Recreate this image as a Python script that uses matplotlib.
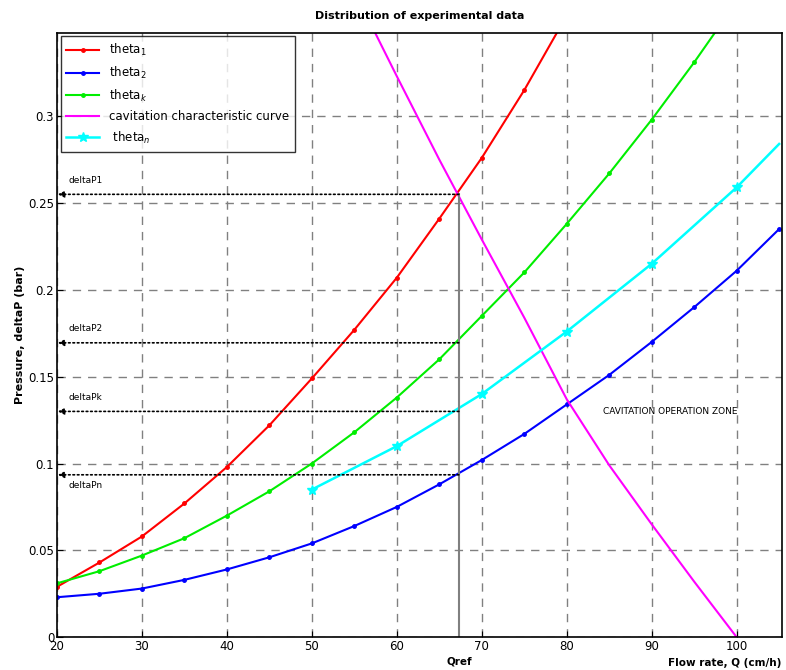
import matplotlib.pyplot as plt

# data
q_marks = [20, 25, 30, 35, 40, 45, 50, 55, 60, 65, 70, 75, 80, 85, 90, 95, 100, 105]
theta1 = [0.029, 0.043, 0.058, 0.077, 0.098, 0.122, 0.149, 0.177, 0.207, 0.241, 0.276, 0.315, 0.358]
theta2 = [0.023, 0.025, 0.028, 0.033, 0.039, 0.046, 0.054, 0.064, 0.075, 0.088, 0.102, 0.117,
          0.134, 0.151, 0.170, 0.190, 0.211, 0.235]
thetak = [0.031, 0.038, 0.047, 0.057, 0.070, 0.084, 0.100, 0.118, 0.138, 0.160, 0.185, 0.210,
          0.238, 0.267, 0.298, 0.331, 0.366]
qn = [50, 60, 70, 80, 90, 100, 105]
thetan = [0.085, 0.110, 0.140, 0.176, 0.215, 0.259, 0.284]
q_cav = [55, 60, 65, 70, 75, 80, 85, 90, 95, 100]
cav = [0.372, 0.323, 0.275, 0.229, 0.184, 0.137, 0.099, 0.065, 0.032, 0.0]

q_ref = 67.3
dp_names = ["deltaP1", "deltaP2", "deltaPk", "deltaPn"]
dp_values = [0.255, 0.1695, 0.130, 0.0935]

fig = plt.figure(figsize=(7.86, 6.7), dpi=100)
ax = fig.add_axes([0.0725, 0.049, 0.922, 0.902])

ax.plot(q_marks[:len(theta1)], theta1, color="red", marker=".", ms=5, lw=1.5, label="theta$_1$")
ax.plot(q_marks[:len(theta2)], theta2, color="blue", marker=".", ms=5, lw=1.5, label="theta$_2$")
ax.plot(q_marks[:len(thetak)], thetak, color="#00ee00", marker=".", ms=5, lw=1.5, label="theta$_k$")
ax.plot(q_cav, cav, color="magenta", lw=1.5, label="cavitation characteristic curve")
ax.plot(qn, thetan, color="cyan", marker="*", ms=7, lw=1.8, markevery=list(range(6)),
        label=" theta$_n$")

# Qref vertical line and the dotted deltaP arrows
ax.plot([q_ref, q_ref], [0, dp_values[0]], color="gray", lw=1.5)
for name, v in zip(dp_names, dp_values):
    ax.annotate("", xy=(20.1, v), xytext=(q_ref, v),
                arrowprops=dict(arrowstyle="-|>", linestyle=":", color="black", lw=1.2,
                                mutation_scale=9, shrinkA=0, shrinkB=0))
    dy = -0.006 if name == "deltaPn" else 0.008
    ax.text(21.4, v + dy, name, fontsize=6.5, va="center", ha="left")

ax.text(84.3, 0.130, "CAVITATION OPERATION ZONE", fontsize=6.5, va="center", ha="left")

ax.set_xlim(20, 105.3)
ax.set_ylim(0, 0.348)
ax.set_xticks(range(20, 101, 10))
ax.set_yticks([0, 0.05, 0.1, 0.15, 0.2, 0.25, 0.3])
ax.set_yticklabels(["0", "0.05", "0.1", "0.15", "0.2", "0.25", "0.3"])
ax.tick_params(labelsize=8.5, direction="in", length=4, pad=2)
ax.grid(True, color="gray", linestyle=(0, (6, 5)), lw=1)
for s in ax.spines.values():
    s.set_linewidth(1.2)

ax.set_ylabel("Pressure, deltaP (bar)", fontsize=8, fontweight="bold", labelpad=2)
ax.set_title("Distribution of experimental data", fontsize=8, fontweight="bold", pad=10)
ax.text(q_ref, -0.011, "Qref", fontsize=7.5, fontweight="bold", ha="center", va="top")
ax.text(105.3, -0.012, "Flow rate, Q (cm/h)", fontsize=7.5, fontweight="bold", ha="right", va="top")

leg = ax.legend(loc="upper left", fontsize=8.5, frameon=True, fancybox=False, edgecolor="black",
                borderaxespad=0.3, handlelength=2.8, labelspacing=0.55, borderpad=0.5)
leg.get_frame().set_linewidth(1)

fig.savefig("out.png", dpi=100)
